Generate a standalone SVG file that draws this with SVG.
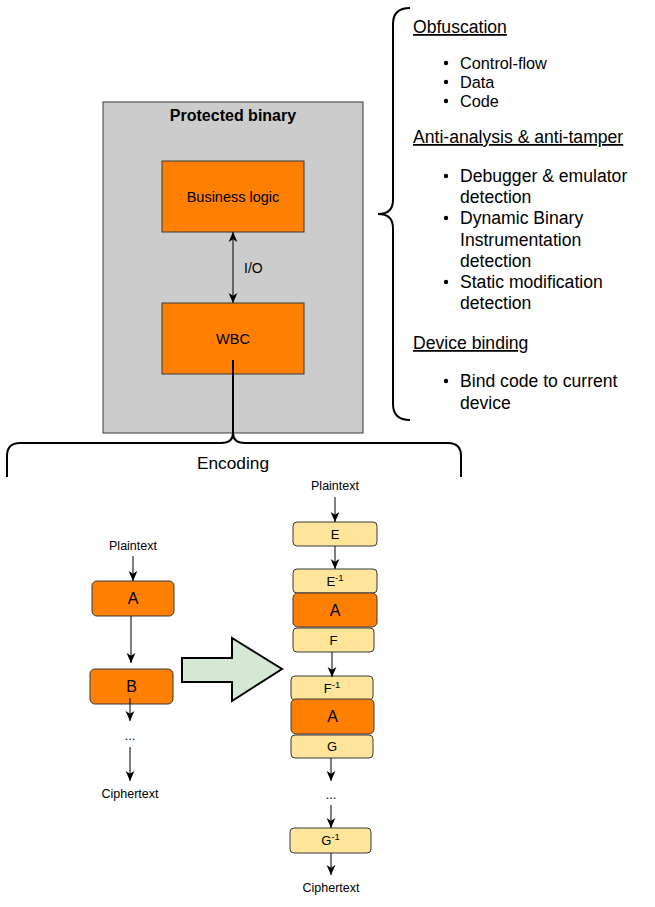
<svg xmlns="http://www.w3.org/2000/svg" width="655" height="907" viewBox="0 0 655 907">
<style>
text{font-family:"Liberation Sans",Arial,sans-serif;fill:#000}
.box{stroke:#36393d;stroke-width:1}
.org{fill:#ff8000}
.yel{fill:#ffe599}
.lbl{text-anchor:middle}
.hd{font-size:17.6px;text-decoration:underline}
.li{font-size:17.6px}
.con{stroke:#000;stroke-width:1;fill:none}
.brace{stroke:#000;stroke-width:2;fill:none}
</style>
<defs>
<marker id="ah" viewBox="0 0 10 10" refX="9.5" refY="5" markerWidth="11" markerHeight="11" markerUnits="userSpaceOnUse" orient="auto-start-reverse">
<path d="M0.5,1 L9.5,5 L0.5,9 L3,5 z" fill="#000"/>
</marker>
</defs>

<g id="protected-binary">
<rect x="103" y="102" width="260" height="331" fill="#cccccc" stroke="#36393d"/>
<text class="lbl" x="233" y="120.5" font-size="16" font-weight="bold">Protected binary</text>
</g>
<g id="business-logic">
<rect class="box org" x="162" y="161" width="142" height="71"/>
<text class="lbl" x="233" y="202" font-size="14.5">Business logic</text>
</g>
<g id="wbc">
<rect class="box org" x="162" y="303" width="142" height="71"/>
<text class="lbl" x="233" y="344" font-size="14.5">WBC</text>
</g>

<g id="protections">
<path class="brace" d="M410,8 Q393,8 393,24 L393,200 Q393,214 378,214 Q393,214 393,228 L393,404 Q393,420 410,420"/>
<text class="hd" x="413" y="33">Obfuscation</text>
<circle cx="446" cy="63" r="2.2"/><text x="460" y="69" font-size="16.3">Control-flow</text>
<circle cx="446" cy="82" r="2.2"/><text x="460" y="88" font-size="16.3">Data</text>
<circle cx="446" cy="101" r="2.2"/><text x="460" y="107" font-size="16.3">Code</text>
<text class="hd" x="413" y="143">Anti-analysis &amp; anti-tamper</text>
<circle cx="446" cy="176" r="2.2"/><text class="li" x="460" y="182">Debugger &amp; emulator</text>
<text class="li" x="460" y="203">detection</text>
<circle cx="446" cy="218" r="2.2"/><text class="li" x="460" y="224">Dynamic Binary</text>
<text class="li" x="460" y="246">Instrumentation</text>
<text class="li" x="460" y="267">detection</text>
<circle cx="446" cy="282" r="2.2"/><text class="li" x="460" y="288">Static modification</text>
<text class="li" x="460" y="309">detection</text>
<text class="hd" x="413" y="349">Device binding</text>
<circle cx="446" cy="381" r="2.2"/><text class="li" x="460" y="387">Bind code to current</text>
<text class="li" x="460" y="409">device</text>
</g>

<g id="encoding">
<path class="brace" d="M7,477 L7,456 Q7,443 20,443 L221,443 Q233,443 233,433 Q233,443 245,443 L448,443 Q461,443 461,456 L461,477"/>
<text class="lbl" x="233" y="469" font-size="17.3">Encoding</text>
</g>

<g id="left-flow">
<text class="lbl" x="133" y="550" font-size="12.5">Plaintext</text>
<g id="left-a">
<rect class="box org" x="92" y="581" width="82" height="35" rx="5"/>
<text class="lbl" x="133" y="604" font-size="16">A</text>
</g>
<g id="left-b">
<rect class="box org" x="90" y="669" width="83" height="35" rx="5"/>
<text class="lbl" x="131.5" y="692" font-size="16">B</text>
</g>
<text class="lbl" x="130" y="740" font-size="12.5">...</text>
<text class="lbl" x="130" y="798" font-size="12.5">Ciphertext</text>
</g>

<g id="transform-arrow">
<path d="M182,658 L232,658 L232,638 L282,669 L232,701 L232,682 L182,682 z" fill="#d5e8d4" stroke="#000" stroke-width="2"/>
</g>

<g id="right-flow">
<text class="lbl" x="335" y="490" font-size="12.5">Plaintext</text>
<g id="r-e"><rect class="box yel" x="293" y="522" width="84" height="24" rx="4"/>
<text class="lbl" x="335" y="538.5" font-size="13">E</text></g>
<g id="r-einv"><rect class="box yel" x="293" y="569" width="84" height="24" rx="4"/>
<text class="lbl" x="335" y="585.5" font-size="13">E<tspan font-size="9.5" dy="-5">-1</tspan></text></g>
<g id="r-a1"><rect class="box org" x="293" y="593" width="84" height="34" rx="5"/>
<text class="lbl" x="335" y="616" font-size="16">A</text></g>
<g id="r-f"><rect class="box yel" x="293" y="628" width="81" height="24" rx="4"/>
<text class="lbl" x="333.5" y="644.5" font-size="13">F</text></g>
<g id="r-finv"><rect class="box yel" x="291" y="676" width="82" height="24" rx="4"/>
<text class="lbl" x="332" y="692.5" font-size="13">F<tspan font-size="9.5" dy="-5">-1</tspan></text></g>
<g id="r-a2"><rect class="box org" x="291" y="699" width="83" height="35" rx="5"/>
<text class="lbl" x="332.5" y="722" font-size="16">A</text></g>
<g id="r-g"><rect class="box yel" x="291" y="735" width="82" height="23" rx="4"/>
<text class="lbl" x="332" y="751" font-size="13">G</text></g>
<text class="lbl" x="331" y="799" font-size="12.5">...</text>
<g id="r-ginv"><rect class="box yel" x="290" y="828" width="81" height="25" rx="4"/>
<text class="lbl" x="330.5" y="845" font-size="13">G<tspan font-size="9.5" dy="-5">-1</tspan></text></g>
<text class="lbl" x="331" y="892" font-size="12.5">Ciphertext</text>
</g>

<g id="connectors">
<line class="con" x1="233" y1="232" x2="233" y2="303" marker-start="url(#ah)" marker-end="url(#ah)"/>
<text x="244" y="273" font-size="14">I/O</text>
<line class="brace" x1="233" y1="360" x2="233" y2="434"/>
<line class="con" x1="133" y1="556" x2="133" y2="581" marker-end="url(#ah)"/>
<line class="con" x1="131" y1="616" x2="131" y2="663" marker-end="url(#ah)"/>
<line class="con" x1="130" y1="698" x2="130" y2="721" marker-end="url(#ah)"/>
<line class="con" x1="130" y1="747" x2="130" y2="781" marker-end="url(#ah)"/>
<line class="con" x1="335" y1="497" x2="335" y2="522" marker-end="url(#ah)"/>
<line class="con" x1="335" y1="546" x2="335" y2="569" marker-end="url(#ah)"/>
<line class="con" x1="332" y1="652" x2="332" y2="677" marker-end="url(#ah)"/>
<line class="con" x1="331" y1="758" x2="331" y2="781" marker-end="url(#ah)"/>
<line class="con" x1="331" y1="805" x2="331" y2="828" marker-end="url(#ah)"/>
<line class="con" x1="331" y1="853" x2="331" y2="875" marker-end="url(#ah)"/>
</g>
</svg>
